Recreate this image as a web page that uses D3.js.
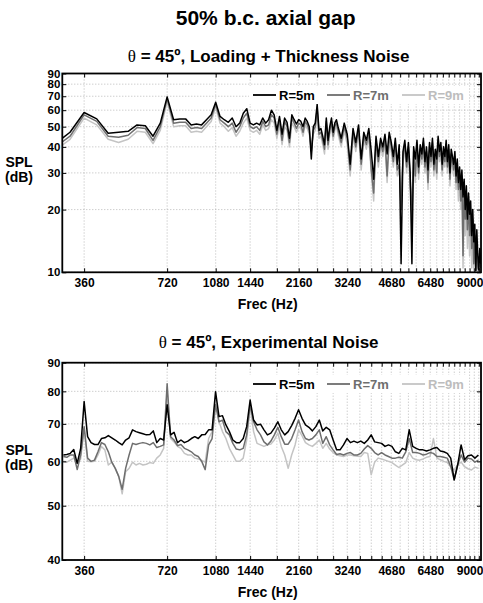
<!DOCTYPE html>
<html><head><meta charset="utf-8">
<script src="https://cdn.jsdelivr.net/npm/d3@7"></script>
<style>
html,body{margin:0;padding:0;background:#fff;}
text{font-family:"Liberation Sans",Arial,sans-serif;}
</style></head>
<body><div id="chart"></div>
<script>
// ---------------- data ----------------
const title = "50% b.c. axial gap";
const subTop = "Loading + Thickness Noise";
const subBot = "Experimental Noise";
const seriesNames = ["R=5m", "R=7m", "R=9m"];
const seriesColors = ["#000000", "#6e6e6e", "#c4c4c4"];
const xTickLabels = [360, 720, 1080, 1440, 2160, 3240, 4680, 6480, 9000];
const xGridTicks = d3.range(360, 9900, 360);
const yTicksTop = [10, 20, 30, 40, 50, 60, 70, 80, 90];
const yTicksBot = [40, 50, 60, 70, 80, 90];

// top panel frequencies (Hz): narrow-band spectrum
const freqTop = d3.range(280, 3000, 40).concat(d3.range(3000, 9900, 80));
const topR5 = [
 41, 47, 58.5, 54.5, 46.5, 47, 47.5, 51, 50.5, 45,
 52, 69.5, 54, 54.5, 54.5, 51, 51.5, 51, 54, 57,
 65.5, 56, 54, 52.5, 55, 50, 52, 58, 61, 52,
 51, 52, 51, 55, 52, 54, 60, 57, 48, 56,
 46, 55, 52.5, 44, 57, 54, 51.5, 54, 53, 50,
 55, 53, 50, 35, 50, 52, 64, 48, 49, 45,
 41, 55, 43, 50, 55, 47, 52, 54,
 50, 44, 52, 46, 33, 49, 42, 51, 35, 47,
 43, 49, 38, 28, 45, 36, 44, 40, 46, 37,
 47, 42, 36, 44, 33, 41, 11, 38, 43, 34,
 42, 30, 11, 40, 35, 43, 32, 41, 37, 44,
 34, 40, 31, 42, 36, 44, 33, 39, 35, 45,
 38, 42, 33, 40, 36, 43, 34, 41, 30, 39,
 36, 33, 38, 29, 35, 27, 32, 25, 31, 23,
 28, 20, 26, 18, 24, 19, 22, 15, 20, 14,
 17, 10.2, 16, 12, 10.3, 13, 11
];
const topR7 = [
 39.5, 45, 57, 53, 45, 44.5, 45.5, 49.5, 49, 43,
 50, 68, 52, 52.5, 52.5, 49, 49.5, 49, 52, 55,
 64, 54, 52, 50, 52, 47, 50, 55, 58, 50,
 49, 50, 48, 53, 50, 51, 57, 55, 46, 54,
 43, 53, 50, 42, 55, 52, 49, 52, 51, 47,
 53, 51, 48, 38, 48, 50, 61, 46, 47, 43,
 39, 53, 41, 48, 53, 45, 50, 52,
 48, 42, 50, 44, 31, 47, 40, 49, 33, 45,
 41, 47, 31, 24, 43, 34, 42, 38, 44, 29,
 45, 40, 34, 42, 31, 33, 20, 36, 41, 32,
 40, 28, 18, 38, 29, 41, 30, 39, 35, 42,
 32, 38, 27, 40, 34, 42, 31, 37, 30, 43,
 36, 40, 31, 38, 34, 41, 32, 39, 28, 37,
 34, 31, 36, 27, 33, 25, 30, 22, 29, 12,
 26, 18, 24, 16, 22, 15, 20, 13, 18, 11,
 15, 10.2, 14, 10.5, 10.2, 12, 10.5
];
const topR9 = [
 38, 43.5, 55, 51, 43.5, 42, 43.5, 47.5, 47, 41.5,
 48, 66, 50, 50.5, 50.5, 47, 47.5, 47, 50, 53,
 62, 52, 50, 47.5, 49.5, 45, 47.5, 52, 55, 48,
 47, 48, 46, 51, 48, 49, 54, 52, 44, 51,
 41, 50, 48, 40, 52, 50, 47, 50, 49, 45,
 51, 49, 46, 40, 46, 48, 58, 44, 45, 41,
 37, 50, 39, 46, 50, 43, 48, 50,
 46, 40, 48, 41, 29, 45, 38, 47, 31, 43,
 39, 45, 30, 22, 41, 32, 40, 36, 42, 27,
 43, 38, 32, 40, 29, 31, 24, 34, 39, 30,
 38, 26, 22, 36, 27, 39, 28, 37, 33, 40,
 30, 36, 25, 38, 32, 40, 29, 35, 28, 41,
 34, 38, 29, 36, 32, 39, 30, 37, 26, 35,
 32, 29, 34, 25, 31, 22, 28, 20, 26, 10.5,
 23, 15, 21, 13, 19, 12, 17, 10.5, 15, 10.2,
 12, 10.1, 11, 10.1, 10.1, 10.5, 10.1
];

// bottom panel frequencies (Hz): 1/24-octave bands referenced to 360 Hz
const freqBot = d3.range(-6, 115).map(k => 360 * Math.pow(2, k / 24));
const botR5 = [
 61.6, 61.7, 62, 63, 59.5, 63.3,
 76.7, 66.4, 64.8, 64.3, 64.3, 65.9, 66.1, 66.7, 66.1, 65.5,
 64.8, 64.2, 65.5, 66.1, 68.3, 67.8, 67.5, 67.2, 66.9, 67,
 68, 64.8, 65.9, 65.5, 75.7, 66.9, 67.6, 64.8, 65.5, 64.8,
 65.2, 65.9, 66.4, 65.9, 66.9, 67, 68.3, 68.3, 79.9, 72.1,
 72.4, 69.7, 67.8, 65.5, 64.8, 64.8, 65.9, 69.2, 77.2, 71.1,
 69.7, 69.9, 68.3, 66.9, 67.4, 68.8, 70.6, 68.3, 66.9, 67.8,
 69.5, 71.6, 74.2, 71.6, 69.7, 69, 68, 69.2, 71.1, 68,
 69, 68.3, 65.5, 62.9, 62.9, 64.2, 65.9, 64.8, 65.2, 64.8,
 65.2, 64.6, 65.5, 66.9, 65, 64.8, 64.6, 63.8, 64.2, 63.8,
 62.4, 62, 63.3, 62.9, 68.3, 63.8, 63.3, 62.9, 62.9, 62.6,
 62.9, 63.3, 63.5, 62.6, 62.4, 62, 60.8, 55.6, 59.1, 64.2,
 60.4, 61.4, 61.6, 60.8, 61.6
];
const botR7 = [
 61.2, 61, 61.6, 61.6, 58, 61.6,
 69.2, 60.8, 60, 60.3, 62.4, 64.8, 64.3, 62.4, 59.8, 58.3,
 56.4, 53.5, 58.3, 61.6, 64.6, 64.3, 64.6, 64.8, 64.6, 64.2,
 64.8, 63.5, 63.8, 64.2, 82.5, 66.4, 65.5, 64, 64.3, 63.3,
 62.9, 62.4, 61.6, 61.2, 60, 58, 64.2, 65.9, 75.7, 70.6,
 71.1, 67.8, 66.9, 64.6, 63.1, 62.9, 63.3, 66.9, 75.7, 70.6,
 68.3, 66.9, 65, 64.2, 65.2, 66.9, 69, 66.4, 64.4, 64.4,
 65.9, 68.3, 71.1, 67.8, 65.9, 65.5, 65.9, 66.9, 68.3, 64.6,
 66.4, 64.2, 62.9, 61.7, 61.9, 61.6, 62, 62.2, 61.6, 61.6,
 62, 63.1, 64, 63.3, 62.2, 61.6, 62.2, 61.6, 61.2, 60.8,
 60.8, 61, 60.8, 62.4, 65.9, 62.2, 62.2, 62, 61.6, 61.8,
 62.2, 62, 61.2, 61.2, 61, 60.8, 58.7, 55.6, 59.1, 61.6,
 59.8, 60.8, 60.6, 59.8, 60.3
];
const botR9 = [
 60, 59.8, 60.3, 60.8, 59.5, 60.6,
 68.7, 60, 59.9, 60, 61.6, 63.8, 62.9, 59.1, 59.8, 58.3,
 56.4, 52.5, 57.5, 58.3, 59.8, 59.1, 59.5, 59.1, 59.3, 59.7,
 59.5, 60.8, 61.6, 63.3, 79.9, 65.9, 65, 63.8, 63.3, 62,
 61.6, 61.6, 60.8, 60.6, 60.2, 59.8, 65.9, 67.8, 77.7, 70.6,
 67.8, 65.9, 63.3, 61.6, 60, 60, 60.8, 65.5, 75.2, 67.8,
 64.6, 64.2, 63.8, 64.2, 64.4, 65.5, 67.4, 63.8, 61.6, 58.3,
 61.6, 64.2, 68.3, 66.7, 64.8, 64.2, 63.8, 64.6, 65.5, 63.3,
 64.6, 63.1, 62.2, 61.6, 61.4, 61.2, 61.6, 61.6, 61.4, 61.3,
 61.2, 62.2, 62, 56.8, 59.8, 60.8, 60.6, 60.3, 60, 59.7,
 59.1, 58.5, 59.1, 59.7, 62.2, 60.8, 60.4, 60.3, 60.6, 61,
 61.2, 65.9, 60.8, 60.4, 60, 59.7, 58.7, 57.9, 59.1, 59.8,
 58.7, 58.2, 57.9, 58.6, 58.3
];

// ---------------- layout ----------------
const W = 483, H = 603;
const L = 62.3, R = 481;
const FONT = '"Liberation Sans", Arial, sans-serif';

const svg = d3.select("#chart").append("svg")
  .attr("width", W).attr("height", H)
  .style("display", "block");

svg.append("text").attr("x", (L + R) / 2 - 6).attr("y", 25)
  .attr("text-anchor", "middle").attr("font-weight", "bold")
  .attr("font-size", 21).text(title);

const x = d3.scaleLog().domain([300, 9900]).range([L, R]);

const panels = [
  {top: 73.5, bottom: 272.3, dom: [10, 90], ticks: yTicksTop, sub: subTop, subY: 62,
   freq: freqTop, series: [topR5, topR7, topR9], legY: 95},
  {top: 362.7, bottom: 560, dom: [40, 90], ticks: yTicksBot, sub: subBot, subY: 348,
   freq: freqBot, series: [botR5, botR7, botR9], legY: 384}
];

panels.forEach((p, pi) => {
  const y = d3.scaleLog().domain(p.dom).range([p.bottom, p.top]);
  const g = svg.append("g");

  // subtitle
  const st = g.append("text").attr("x", (L + R) / 2 - 3).attr("y", p.subY)
    .attr("text-anchor", "middle").attr("font-size", 17).attr("font-weight", "bold");
  st.append("tspan").attr("font-family", '"Liberation Serif", serif')
    .attr("font-weight", "normal").text("\u03b8");
  st.append("tspan").text(" = 45\u00ba, " + p.sub);

  // grid
  g.append("g").selectAll("line").data(xGridTicks).join("line")
    .attr("x1", d => x(d)).attr("x2", d => x(d))
    .attr("y1", p.top).attr("y2", p.bottom)
    .attr("stroke", "#a8a8a8").attr("stroke-width", 0.8)
    .attr("stroke-dasharray", "1,2");
  g.append("g").selectAll("line").data(p.ticks).join("line")
    .attr("x1", L).attr("x2", R)
    .attr("y1", d => y(d)).attr("y2", d => y(d))
    .attr("stroke", "#a8a8a8").attr("stroke-width", 0.8)
    .attr("stroke-dasharray", "1,2");

  // data lines
  const clipId = "clip" + pi;
  svg.append("clipPath").attr("id", clipId).append("rect")
    .attr("x", L).attr("y", p.top).attr("width", R - L).attr("height", p.bottom - p.top);
  const line = d3.line().x(d => x(d[0])).y(d => y(d[1]));
  const lg = g.append("g").attr("clip-path", `url(#${clipId})`);
  [2, 1, 0].forEach(si => {
    const vals = p.series[si];
    const pts = p.freq.slice(0, vals.length).map((f, i) => [f, Math.max(vals[i], p.dom[0])]);
    lg.append("path").datum(pts).attr("d", line)
      .attr("fill", "none").attr("stroke", seriesColors[si])
      .attr("stroke-width", 1.5).attr("stroke-linejoin", "round");
  });

  // legend
  const leg = g.append("g");
  leg.append("rect").attr("x", 249).attr("y", p.legY - 9).attr("width", 220).attr("height", 18)
    .attr("fill", "#fff");
  const legX = [253, 327, 402];
  seriesNames.forEach((n, i) => {
    leg.append("line").attr("x1", legX[i]).attr("x2", legX[i] + 23)
      .attr("y1", p.legY).attr("y2", p.legY)
      .attr("stroke", seriesColors[i]).attr("stroke-width", 1.8);
    leg.append("text").attr("x", legX[i] + 26).attr("y", p.legY + 4.5)
      .attr("font-size", 13).attr("font-weight", "bold")
      .attr("fill", i === 0 ? "#000" : (i === 1 ? "#6e6e6e" : "#bdbdbd")).text(n);
  });

  // axes
  const axB = g.append("g").attr("transform", `translate(0,${p.bottom})`)
    .call(d3.axisBottom(x).tickValues(xGridTicks)
      .tickFormat(d => xTickLabels.includes(d) ? d : "")
      .tickSizeInner(-4).tickSizeOuter(0).tickPadding(6));
  const axT = g.append("g").attr("transform", `translate(0,${p.top})`)
    .call(d3.axisTop(x).tickValues(xGridTicks).tickFormat("")
      .tickSizeInner(-4).tickSizeOuter(0));
  const axL = g.append("g").attr("transform", `translate(${L},0)`)
    .call(d3.axisLeft(y).tickValues(p.ticks).tickFormat(d3.format("d"))
      .tickSizeInner(-4).tickSizeOuter(0).tickPadding(2));
  const axR = g.append("g").attr("transform", `translate(${R},0)`)
    .call(d3.axisRight(y).tickValues(p.ticks).tickFormat("")
      .tickSizeInner(-4).tickSizeOuter(0));
  [axB, axT, axL, axR].forEach(a => {
    a.select(".domain").remove();
    a.selectAll("line").attr("stroke", "#000").attr("stroke-width", 1);
    a.selectAll("text").attr("font-family", FONT).attr("font-weight", "bold")
      .attr("fill", "#000");
  });
  axB.selectAll("text").attr("font-size", 12);
  axL.selectAll("text").attr("font-size", 11.5);

  // frame
  g.append("rect").attr("x", L).attr("y", p.top).attr("width", R - L)
    .attr("height", p.bottom - p.top).attr("fill", "none")
    .attr("stroke", "#000").attr("stroke-width", 1.8);

  // axis titles
  g.append("text").attr("x", (L + R) / 2 - 4).attr("y", p.bottom + 37)
    .attr("text-anchor", "middle").attr("font-size", 14).attr("font-weight", "bold")
    .text("Frec (Hz)");
  const cy = (p.top + p.bottom) / 2;
  g.append("text").attr("x", 19).attr("y", cy - 6)
    .attr("text-anchor", "middle").attr("font-size", 14).attr("font-weight", "bold")
    .text("SPL");
  g.append("text").attr("x", 19).attr("y", cy + 9)
    .attr("text-anchor", "middle").attr("font-size", 14).attr("font-weight", "bold")
    .text("(dB)");
});
</script>
</body></html>
